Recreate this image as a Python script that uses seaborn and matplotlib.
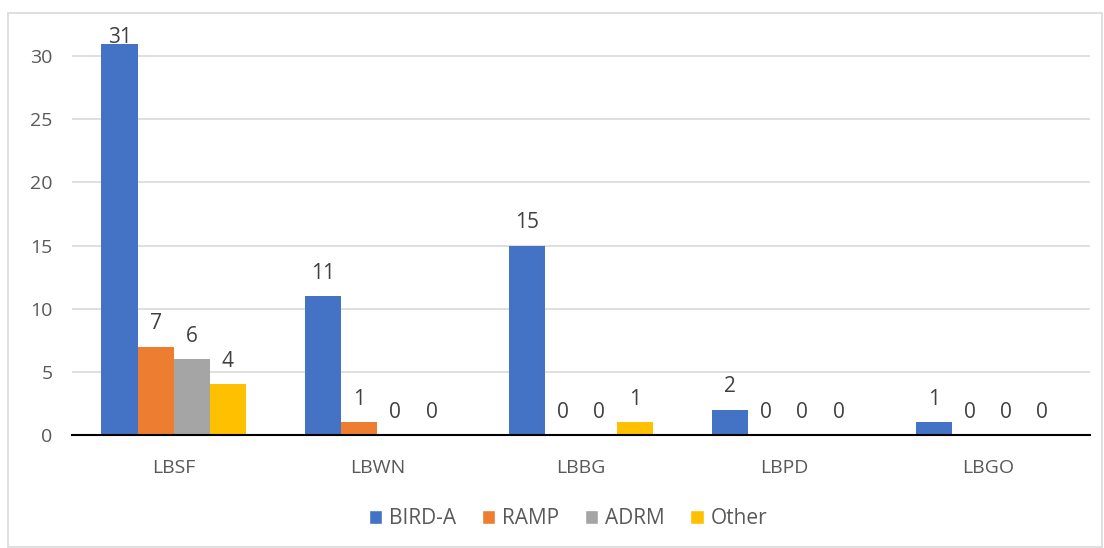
import pandas as pd
import numpy as np
import matplotlib.pyplot as plt
import seaborn as sns
from matplotlib.patches import Patch, Rectangle

# chart data
airports = ['LBSF', 'LBWN', 'LBBG', 'LBPD', 'LBGO']
series = ['BIRD-A', 'RAMP', 'ADRM', 'Other']
bird_a = [31, 11, 15, 2, 1]
ramp = [7, 1, 0, 0, 0]
adrm = [6, 0, 0, 0, 0]
other = [4, 0, 1, 0, 0]
colors = ['#4472C4', '#ED7D31', '#A5A5A5', '#FFC000']

df = pd.DataFrame({'airport': airports, 'BIRD-A': bird_a, 'RAMP': ramp,
                   'ADRM': adrm, 'Other': other})
long_df = df.melt(id_vars='airport', var_name='type', value_name='count')

sns.set_style('white')
plt.rcParams['font.family'] = ['Open Sans', 'DejaVu Sans']

fig = plt.figure(figsize=(11.04, 5.48), dpi=100)
ax = fig.add_axes([0.0652, 0.2062, 0.9218, 0.7298])

sns.barplot(data=long_df, x='airport', y='count', hue='type', order=airports,
            hue_order=series, palette=colors, width=0.71, gap=0,
            linewidth=0, saturation=1, legend=False, ax=ax)

ymax = 31.67
for c in ax.containers:
    labels = ax.bar_label(c, padding=9, fontsize=15, color='#404040')
    # Excel squeezes the tallest label down onto its bar
    for t, bar in zip(labels, c):
        if bar.get_height() > 0.9 * ymax:
            t.xyann = (0, -3)

ax.set_ylim(0, ymax)
ax.set_xlim(-0.5, 4.5)
ax.set_yticks(range(0, 31, 5))
ax.yaxis.grid(True, color='#D9D9D9', linewidth=1.2)
ax.set_axisbelow(True)
ax.set_xlabel('')
ax.set_ylabel('')

for s in ['top', 'right', 'left']:
    ax.spines[s].set_visible(False)
ax.spines['bottom'].set_color('black')
ax.spines['bottom'].set_linewidth(1.5)

ax.set_xticks(np.arange(-0.5, 5, 1), minor=True)
ax.tick_params(axis='x', which='minor', length=7, width=1.5, color='black')
ax.tick_params(axis='x', which='major', length=0, pad=17, labelsize=14, labelcolor='#595959')
ax.tick_params(axis='y', length=0, pad=14, labelsize=14, labelcolor='#595959')

handles = [Patch(facecolor=col, label=lab) for col, lab in zip(colors, series)]
fig.legend(handles=handles, loc='center', bbox_to_anchor=(0.5145, 0.054), ncol=4,
           frameon=False, fontsize=15, labelcolor='#595959', handlelength=0.65,
           handleheight=0.65, handletextpad=0.35, columnspacing=1.2)

# light frame around the chart area
fig.patches.append(Rectangle((8 / 1104, 0.002), 1 - 8 / 1104 - 0.002, 1 - 13 / 548 - 0.002,
                             transform=fig.transFigure, fill=False,
                             edgecolor='#D9D9D9', linewidth=1.2))

fig.savefig('out.png', dpi=100)
